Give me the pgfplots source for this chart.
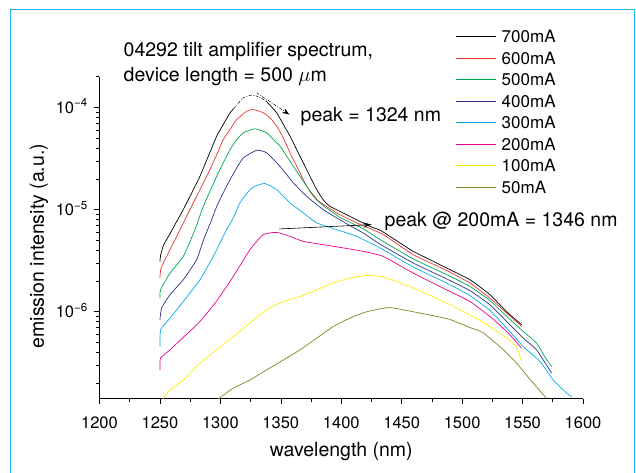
\documentclass[border=0pt]{standalone}
\usepackage{fontspec}
\setmainfont{TeX Gyre Heros}
\usepackage{pgfplots}
\pgfplotsset{compat=1.18}
\usetikzlibrary{arrows.meta}

\definecolor{frameblue}{RGB}{30,178,235}
\definecolor{cred}{RGB}{238,50,50}
\definecolor{cgreen}{RGB}{0,166,81}
\definecolor{cnavy}{RGB}{46,49,146}
\definecolor{ccyan}{RGB}{0,174,239}
\definecolor{cmag}{RGB}{236,0,140}
\definecolor{cyel}{RGB}{255,237,0}
\definecolor{coli}{RGB}{135,130,35}

\newcommand\bigf{\fontsize{19.5}{23}\selectfont}

\begin{document}
\fontsize{16.5}{19.8}\selectfont
\begin{tikzpicture}
\useasboundingbox (-99.5pt,-73.3pt) rectangle (536.5pt,398.7pt);
\draw[frameblue, line width=0.9pt] (-88.8pt,-80pt) -- (-88.8pt,389.4pt) -- (534.5pt,389.4pt) -- (534.5pt,-80pt);
\begin{axis}[
  scale only axis,
  width=483.5pt, height=322pt,
  ymode=log,
  xmin=1200, xmax=1600,
  ymin=1.41e-7, ymax=2e-4,
  axis x line=bottom, axis y line=left,
  axis line style={-, line width=0.6pt},
  tick style={black, line width=0.6pt},
  tick align=outside,
  major tick length=5pt, minor tick length=3pt,
  xtick={1200,1250,...,1600},
  minor x tick num=1,
  ytick={1e-6,1e-5,1e-4},
  yticklabels={10\textsuperscript{−6},10\textsuperscript{−5},10\textsuperscript{−4}},
  minor ytick={2e-7,3e-7,4e-7,5e-7,6e-7,7e-7,8e-7,9e-7,2e-6,3e-6,4e-6,5e-6,6e-6,7e-6,8e-6,9e-6,2e-5,3e-5,4e-5,5e-5,6e-5,7e-5,8e-5,9e-5,2e-4},
  /pgf/number format/1000 sep={},
  /pgf/number format/assume math mode=true,
  xticklabel style={anchor=base, yshift=-24.6pt},
  yticklabel style={anchor=base east, xshift=-1pt, yshift=-5.7pt},
  xlabel={wavelength (nm)},
  ylabel={emission intensity (a.u.)},
  xlabel style={font=\bigf, at={(axis description cs:0.5,-0.178)}, anchor=base},
  ylabel style={font=\bigf, at={(axis description cs:-0.1148,0.474)}, anchor=base},
  legend style={at={(axis description cs:0.7373,1.1432)}, anchor=north west,
    draw=none, fill=none, inner sep=0pt, outer sep=0pt, row sep=9.3pt,
    font=\fontsize{17}{20}\selectfont,
    nodes={inner sep=0pt, text height=12.2pt, text depth=0pt}},
  legend cell align=left,
  legend image code/.code={\draw[#1, line width=0.8pt] (0pt,0pt) -- (40pt,0pt); \path (45pt,0pt);},
  every axis plot/.append style={line width=0.7pt, smooth, tension=0.3},
]
% 700mA (solid, dash-dot at the peak, solid)
\addplot[black] coordinates {(1250,3.1e-6)(1250.6,3.6e-6)(1253,4.5e-6)(1258.3,5.8e-6)(1263.9,7.67e-6)(1269.3,1.0e-5)(1276.3,1.46e-5)(1283.1,2.12e-5)(1290,3.33e-5)(1297,5.24e-5)(1302.4,6.81e-5)(1308,8.87e-5)(1311,9.7e-5)};
\addlegendentry{700mA}
\addplot[cred] coordinates {(1250,2.15e-6)(1250.6,2.6e-6)(1252.8,3.0e-6)(1258.3,4.06e-6)(1263.9,5.47e-6)(1270.7,7.98e-6)(1277.6,1.164e-5)(1284.5,1.69e-5)(1291.4,2.47e-5)(1297,3.46e-5)(1302.4,4.85e-5)(1308,6.08e-5)(1313.5,7.62e-5)(1321.8,9.2e-5)(1327.2,9.55e-5)(1335.5,8.87e-5)(1341,7.93e-5)(1346.6,6.56e-5)(1352,5.05e-5)(1357.6,3.6e-5)(1363.1,2.66e-5)(1368.6,1.97e-5)(1374,1.51e-5)(1379.7,1.25e-5)(1396.2,9.29e-6)(1412.8,7.41e-6)(1434.8,5.69e-6)(1459.6,3.62e-6)(1487.2,2.54e-6)(1506.5,1.91e-6)(1523,1.36e-6)(1536.9,9.7e-7)(1549.3,7.18e-7)};
\addlegendentry{600mA}
\addplot[cgreen] coordinates {(1250,1.36e-6)(1250.5,1.64e-6)(1258.3,2.39e-6)(1269.3,3.48e-6)(1279,6.37e-6)(1285.9,1.077e-5)(1297,2.12e-5)(1302.4,2.87e-5)(1308,3.87e-5)(1313.5,4.85e-5)(1319,5.65e-5)(1328.6,6.18e-5)(1338.3,5.65e-5)(1343.8,4.85e-5)(1349.3,4.18e-5)(1354.9,3.33e-5)(1360.3,2.66e-5)(1371.4,1.69e-5)(1382.4,1.164e-5)(1399,8.4e-6)(1418.2,6.5e-6)(1432,5.1e-6)(1459.6,3.29e-6)(1487.2,2.31e-6)(1506.5,1.77e-6)(1523,1.29e-6)(1536.9,9.0e-7)(1550.6,6.41e-7)(1561.6,4.93e-7)(1568.3,3.65e-7)(1574,2.91e-7)};
\addlegendentry{500mA}
\addplot[cnavy] coordinates {(1250,8.35e-7)(1251.4,1.09e-6)(1258.3,1.47e-6)(1269.3,2.06e-6)(1280.4,3.24e-6)(1285.9,5.0e-6)(1292.8,7.98e-6)(1297,1.077e-5)(1302.4,1.46e-5)(1308,1.97e-5)(1313.5,2.56e-5)(1319,3.21e-5)(1330,3.81e-5)(1338.3,3.6e-5)(1349.3,2.66e-5)(1360.3,1.83e-5)(1371.4,1.35e-5)(1385.1,1.0e-5)(1401.7,7.6e-6)(1418.2,5.9e-6)(1432,4.6e-6)(1459.6,3.0e-6)(1487.2,2.1e-6)(1506.5,1.61e-6)(1523,1.17e-6)(1536.9,8.03e-7)(1550.6,5.52e-7)(1561.6,4.24e-7)(1574,2.51e-7)};
\addlegendentry{400mA}
\addplot[ccyan] coordinates {(1250,4.57e-7)(1250.6,6.67e-7)(1258.3,8.67e-7)(1269.3,1.26e-6)(1283.1,2.06e-6)(1294.1,3.48e-6)(1302.4,5.47e-6)(1305.2,6.37e-6)(1310.7,8.3e-6)(1316.2,1.164e-5)(1324.5,1.57e-5)(1330,1.72e-5)(1336.9,1.8e-5)(1346.6,1.57e-5)(1357.6,1.164e-5)(1368.6,9.29e-6)(1379.7,7.41e-6)(1396.2,6.37e-6)(1412.8,5.47e-6)(1432.1,4.22e-6)(1459.6,2.74e-6)(1487.2,1.91e-6)(1506.5,1.44e-6)(1523,1.03e-6)(1536.9,6.92e-7)(1550.6,4.57e-7)(1564.4,3.26e-7)(1575.4,2.15e-7)(1586.5,1.6e-7)(1590.6,1.48e-7)};
\addlegendentry{300mA}
\addplot[cmag] coordinates {(1250,2.7e-7)(1250.5,3.52e-7)(1258.3,4.24e-7)(1269.3,5.62e-7)(1283.1,8.03e-7)(1297,1.28e-6)(1310.7,2.22e-6)(1324.5,4.06e-6)(1335.5,5.69e-6)(1346.6,5.99e-6)(1357.6,5.47e-6)(1368.6,4.89e-6)(1385.1,4.54e-6)(1401.7,4.22e-6)(1418.2,3.9e-6)(1434.8,3.48e-6)(1459.6,2.39e-6)(1487.2,1.64e-6)(1506.5,1.26e-6)(1523,9.0e-7)(1536.9,6.41e-7)(1549.3,4.41e-7)};
\addlegendentry{200mA}
\addplot[cyel] coordinates {(1251.5,1.35e-7)(1258.3,1.72e-7)(1269.3,2.15e-7)(1283.1,3.14e-7)(1297,4.24e-7)(1310.7,5.73e-7)(1324.5,7.75e-7)(1338.3,1.05e-6)(1352.1,1.26e-6)(1365.9,1.41e-6)(1379.7,1.64e-6)(1393.4,1.91e-6)(1407.2,2.14e-6)(1421.1,2.27e-6)(1434.8,2.19e-6)(1459.6,1.71e-6)(1487.2,1.22e-6)(1506.5,9.35e-7)(1523,7.18e-7)(1536.9,5.52e-7)(1544.9,4.57e-7)(1549.3,3.26e-7)};
\addlegendentry{100mA}
\addplot[coli] coordinates {(1295,1.3e-7)(1297,1.37e-7)(1310.7,1.79e-7)(1324.5,2.15e-7)(1338.3,2.7e-7)(1352.1,3.38e-7)(1365.9,4.24e-7)(1379.7,5.52e-7)(1393.4,7.18e-7)(1407.2,8.67e-7)(1421.1,1.0e-6)(1439.5,1.1e-6)(1459.6,1.0e-6)(1489,8.48e-7)(1506.5,7.0e-7)(1517,6.27e-7)(1533.6,4.31e-7)(1544.6,3.18e-7)(1558.4,2.03e-7)(1569.4,1.44e-7)};
\addlegendentry{50mA}
\addplot[black, forget plot, dash pattern=on 3pt off 1.5pt on 0.8pt off 1.5pt, line width=0.5pt] coordinates {(1311,9.7e-5)(1319,1.245e-4)(1326,1.32e-4)(1332,1.27e-4)(1338,1.15e-4)};
\addplot[black, forget plot] coordinates {(1338,1.15e-4)(1346.6,8.87e-5)(1352.1,6.81e-5)(1357.6,5.24e-5)(1363.1,3.87e-5)(1368.6,2.87e-5)(1374.1,2.12e-5)(1379.7,1.57e-5)(1385.1,1.25e-5)(1390.7,1.077e-5)(1407.2,8.59e-6)(1423.8,6.85e-6)(1432.1,6.3e-6)(1440.3,5.47e-6)(1459.6,3.9e-6)(1473.4,3.24e-6)(1487.2,2.68e-6)(1506.5,2.06e-6)(1523,1.47e-6)(1536.9,1.0e-6)(1549.3,7.46e-7)};
% annotations
\draw[black, line width=0.5pt, dash pattern=on 3pt off 1.5pt on 0.8pt off 1.5pt, -{Stealth[length=7pt,width=5pt]}] (axis cs:1330,1.39e-4) -- (axis cs:1357,8.53e-5);
\draw[black, line width=0.6pt, -{Stealth[length=8pt,width=5pt]}] (axis cs:1348.7,6.47e-6) -- (axis cs:1425.1,7.13e-6);
\end{axis}
\node[anchor=base west, font=\bigf] at (18.5pt,342pt) {04292 tilt amplifier spectrum,};
\node[anchor=base west, font=\bigf] at (18.5pt,317pt) {device length = 500 $\mu$m};
\node[anchor=base west, font=\bigf] at (195.5pt,277pt) {peak = 1324 nm};
\node[anchor=base west, font=\bigf] at (279.5pt,172pt) {peak @ 200mA = 1346 nm};
\end{tikzpicture}
\end{document}
